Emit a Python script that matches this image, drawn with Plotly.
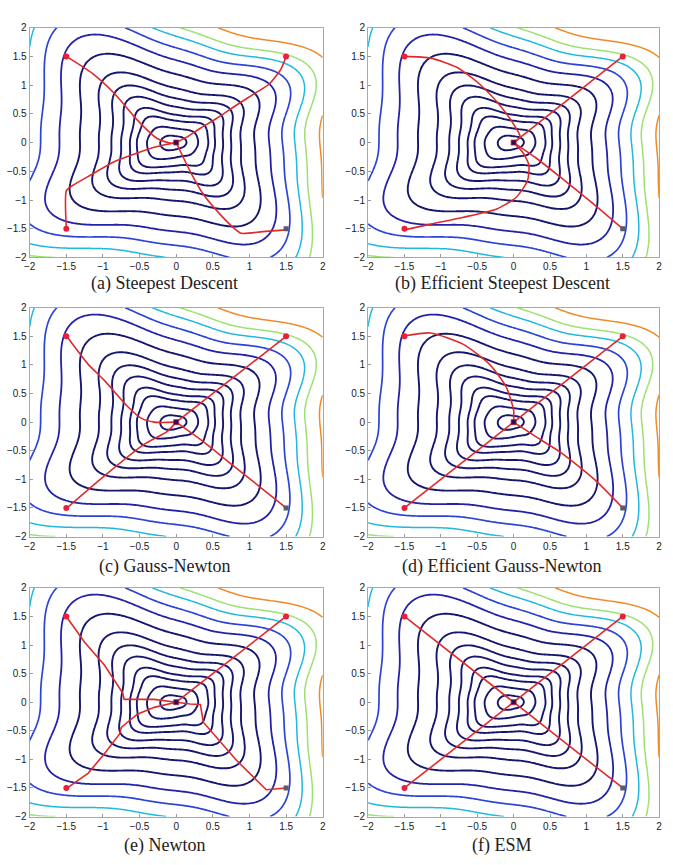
import numpy as np
import plotly.graph_objects as go

# ---------------- data ----------------
# x position where each contour level crosses the positive x axis (y = 0)
level_cross_x = [0.14, 0.30, 0.44, 0.53, 0.64, 0.75, 0.88, 1.07, 1.27, 1.45, 1.62, 1.76, 1.96]
# colour group of each level (0 = navy ... 5 = orange)
level_group = [0, 0, 0, 0, 0, 0, 0, 0, 1, 2, 3, 4, 5]

axis_ticks = [-2, -1.5, -1, -0.5, 0, 0.5, 1, 1.5, 2]
axis_tick_text = ["\u22122", "\u22121.5", "\u22121", "\u22120.5", "0", "0.5", "1", "1.5", "2"]

panel_titles = ["(a) Steepest Descent", "(b) Efficient Steepest Descent",
                "(c) Gauss-Newton", "(d) Efficient Gauss-Newton",
                "(e) Newton", "(f) ESM"]

start_x = [-1.5, 1.5, -1.5]
start_y = [1.5, 1.5, -1.5]
last_start_x = [1.5]
last_start_y = [-1.5]
min_x = [0.0]
min_y = [0.0]

# optimisation paths, four per panel (from TL, TR, BL, BR start points)
path_a = [
    [(-1.5, 1.5), (-1.14, 1.2), (-0.84, 0.85), (-0.53, 0.39), (-0.26, 0.07), (-0.08, -0.01), (0, 0)],
    [(1.5, 1.5), (1.43, 1.28), (1.27, 1.02), (1.09, 0.87), (0.82, 0.65), (0.55, 0.42), (0.33, 0.25), (0.15, 0.1), (0, 0)],
    [(-1.5, -1.5), (-1.5, -0.84), (-1.43, -0.76), (-1.16, -0.56), (-0.84, -0.33), (-0.53, -0.18), (-0.26, -0.07), (0, 0)],
    [(1.5, -1.52), (1.18, -1.55), (0.89, -1.58), (0.78, -1.48), (0.6, -1.25), (0.37, -0.9), (0.19, -0.5), (0.06, -0.16), (0, 0)],
]
path_b = [
    [(-1.5, 1.5), (-1.14, 1.47), (-0.78, 1.31), (-0.47, 1.02), (-0.19, 0.65), (0.01, 0.3), (0.09, 0.1), (0, 0)],
    [(1.5, 1.5), (0, 0)],
    [(-1.5, -1.52), (-1.14, -1.42), (-0.69, -1.3), (-0.24, -1.16), (0.03, -0.96), (0.19, -0.67), (0.21, -0.39), (0.12, -0.16), (0, 0)],
    [(1.5, -1.5), (1.1, -1.07), (0.66, -0.62), (0.3, -0.26), (0, 0)],
]
path_c = [
    [(-1.5, 1.51), (-1.2, 1.01), (-0.98, 0.73), (-0.66, 0.27), (-0.48, 0.07), (-0.3, 0.0), (0, 0)],
    [(1.5, 1.5), (0, 0)],
    [(-1.5, -1.51), (-0.98, -0.94), (-0.44, -0.39), (-0.12, -0.16), (0, 0)],
    [(1.5, -1.5), (0.73, -0.71), (0.37, -0.34), (0, 0)],
]
path_d = [
    [(-1.5, 1.51), (-1.14, 1.56), (-0.69, 1.36), (-0.33, 1.01), (-0.1, 0.61), (0.0, 0.21), (0, 0)],
    [(1.5, 1.5), (0, 0)],
    [(-1.5, -1.5), (0, 0)],
    [(1.5, -1.5), (1.11, -1.0), (0.66, -0.54), (0.3, -0.25), (0, 0)],
]
path_e = [
    [(-1.5, 1.5), (-1.25, 1.05), (-0.98, 0.65), (-0.73, 0.16), (-0.71, 0.05), (-0.3, 0.05), (0, 0)],
    [(1.5, 1.5), (0, 0)],
    [(-1.5, -1.51), (-1.2, -1.24), (-0.98, -0.9), (-0.77, -0.55), (-0.75, -0.44), (-0.53, -0.21), (-0.3, -0.09), (0, 0)],
    [(1.5, -1.5), (1.23, -1.53), (0.82, -1.01), (0.37, -0.35), (0.33, -0.04), (0.19, -0.03), (0, 0)],
]
path_f = [
    [(-1.5, 1.5), (0, 0)],
    [(1.5, 1.5), (0, 0)],
    [(-1.5, -1.5), (0, 0)],
    [(1.5, -1.5), (0, 0)],
]
panel_paths = [path_a, path_b, path_c, path_d, path_e, path_f]
panel_path_shape = ["spline", "spline", "spline", "spline", "linear", "linear"]

# ---------------- styles ----------------
group_colors = ["#16166e", "#2222a8", "#2b44d6", "#1fb8df", "#9be270", "#f08a26"]
group_widths = [1.9, 1.8, 1.7, 1.5, 1.5, 1.5]
W, H = 673, 865
col_px = [(24, 321), (367, 662)]
row_px = [(22, 255), (306, 538), (590, 822)]
title_cx = [161, 503]
title_cy = [281, 568, 851]


# ---------------- cost surface (shape model of the drawn contours) ----------------
def field(x, y):
    r = np.hypot(x, y)
    th = np.arctan2(y, x)
    d = np.deg2rad
    c1_in = 0.2 * np.exp(-(r / 0.4) ** 2)
    c1_out = 0.07 + 0.035 * r
    c2 = 0.25 * np.exp(-(r / 0.55) ** 2)
    c2b = 0.08 * (1 - np.exp(-(r / 0.8) ** 2))
    c4 = 0.16 * (1 - np.exp(-(r / 0.5) ** 2))
    a4 = d(42 - 3 * r)
    c8 = 0.2 * c4
    s = (c1_in * np.cos(th - d(180)) + c1_out * np.cos(th - d(198))
         + c2 * np.cos(2 * (th - d(5))) + c2b * np.cos(2 * (th - d(125)))
         + c4 * np.cos(4 * (th - a4)) + c8 * np.cos(8 * (th - a4)))
    return r * np.exp(-s)


gx = np.linspace(-2, 2, 181)
GX, GY = np.meshgrid(gx, gx)
rho = field(GX, GY)
lev = field(np.array(level_cross_x), np.zeros(len(level_cross_x)))
n = len(lev)
step = lev[-1] - lev[-2]
lev_ext = np.concatenate([[0.0], lev, [lev[-1] + 100 * step]])
idx_ext = np.concatenate([[0.0], np.arange(1, n + 1, dtype=float), [n + 100.0]])
zt = np.interp(rho, lev_ext, idx_ext).astype(np.float32)

fig = go.Figure()
layout = dict(width=W, height=H, margin=dict(l=0, r=0, t=0, b=0),
              paper_bgcolor="white", plot_bgcolor="white", showlegend=False)

annotations = []
for p in range(6):
    row, col = divmod(p, 2)
    ax = "" if p == 0 else str(p + 1)
    xa, ya = "x" + ax, "y" + ax
    x0, x1 = col_px[col]
    y0, y1 = row_px[row]
    common = dict(range=[-2, 2], tickmode="array", tickvals=axis_ticks, ticktext=axis_tick_text,
                  ticks="inside", ticklen=3, tickcolor="#9a9a9a", showline=True, mirror=True,
                  linecolor="#a8a8a8", linewidth=1, showgrid=False, zeroline=False,
                  tickfont=dict(family="Liberation Sans, Arial", size=10, color="#1a1a1a"),
                  fixedrange=True)
    layout["xaxis" + ax] = dict(domain=[x0 / W, x1 / W], anchor=ya, **common)
    layout["yaxis" + ax] = dict(domain=[1 - y1 / H, 1 - y0 / H], anchor=xa, **common)

    for g, color in enumerate(group_colors):
        idx = [i + 1 for i, gg in enumerate(level_group) if gg == g]
        fig.add_trace(go.Contour(
            x=gx, y=gx, z=zt, xaxis=xa, yaxis=ya, autocontour=False,
            contours=dict(start=idx[0], end=idx[-1] + 0.5, size=1, coloring="none"),
            line=dict(color=color, width=group_widths[g], smoothing=1.0),
            showscale=False, hoverinfo="skip"))

    for path in panel_paths[p]:
        px_, py_ = zip(*path)
        fig.add_trace(go.Scatter(
            x=list(px_), y=list(py_), mode="lines", xaxis=xa, yaxis=ya,
            line=dict(color="#e02a2a", width=1.6, shape=panel_path_shape[p], smoothing=0.6),
            hoverinfo="skip"))

    fig.add_trace(go.Scatter(x=start_x, y=start_y, mode="markers", xaxis=xa, yaxis=ya,
                             marker=dict(color="#e8203a", size=6, symbol="circle"), hoverinfo="skip"))
    fig.add_trace(go.Scatter(x=last_start_x, y=last_start_y, mode="markers", xaxis=xa, yaxis=ya,
                             marker=dict(color="#5a5a6a", size=5, symbol="square"), hoverinfo="skip"))
    fig.add_trace(go.Scatter(x=min_x, y=min_y, mode="markers", xaxis=xa, yaxis=ya,
                             marker=dict(color="#2a1050", size=5, symbol="square",
                                         line=dict(color="#c02040", width=0.8)), hoverinfo="skip"))

    annotations.append(dict(text=panel_titles[p], xref="paper", yref="paper",
                            x=title_cx[col] / W, y=1 - title_cy[row] / H,
                            xanchor="center", yanchor="middle", showarrow=False,
                            font=dict(family="Liberation Serif, Times New Roman", size=18, color="#222")))

layout["annotations"] = annotations
fig.update_layout(**layout)
fig.write_html("out.html")
